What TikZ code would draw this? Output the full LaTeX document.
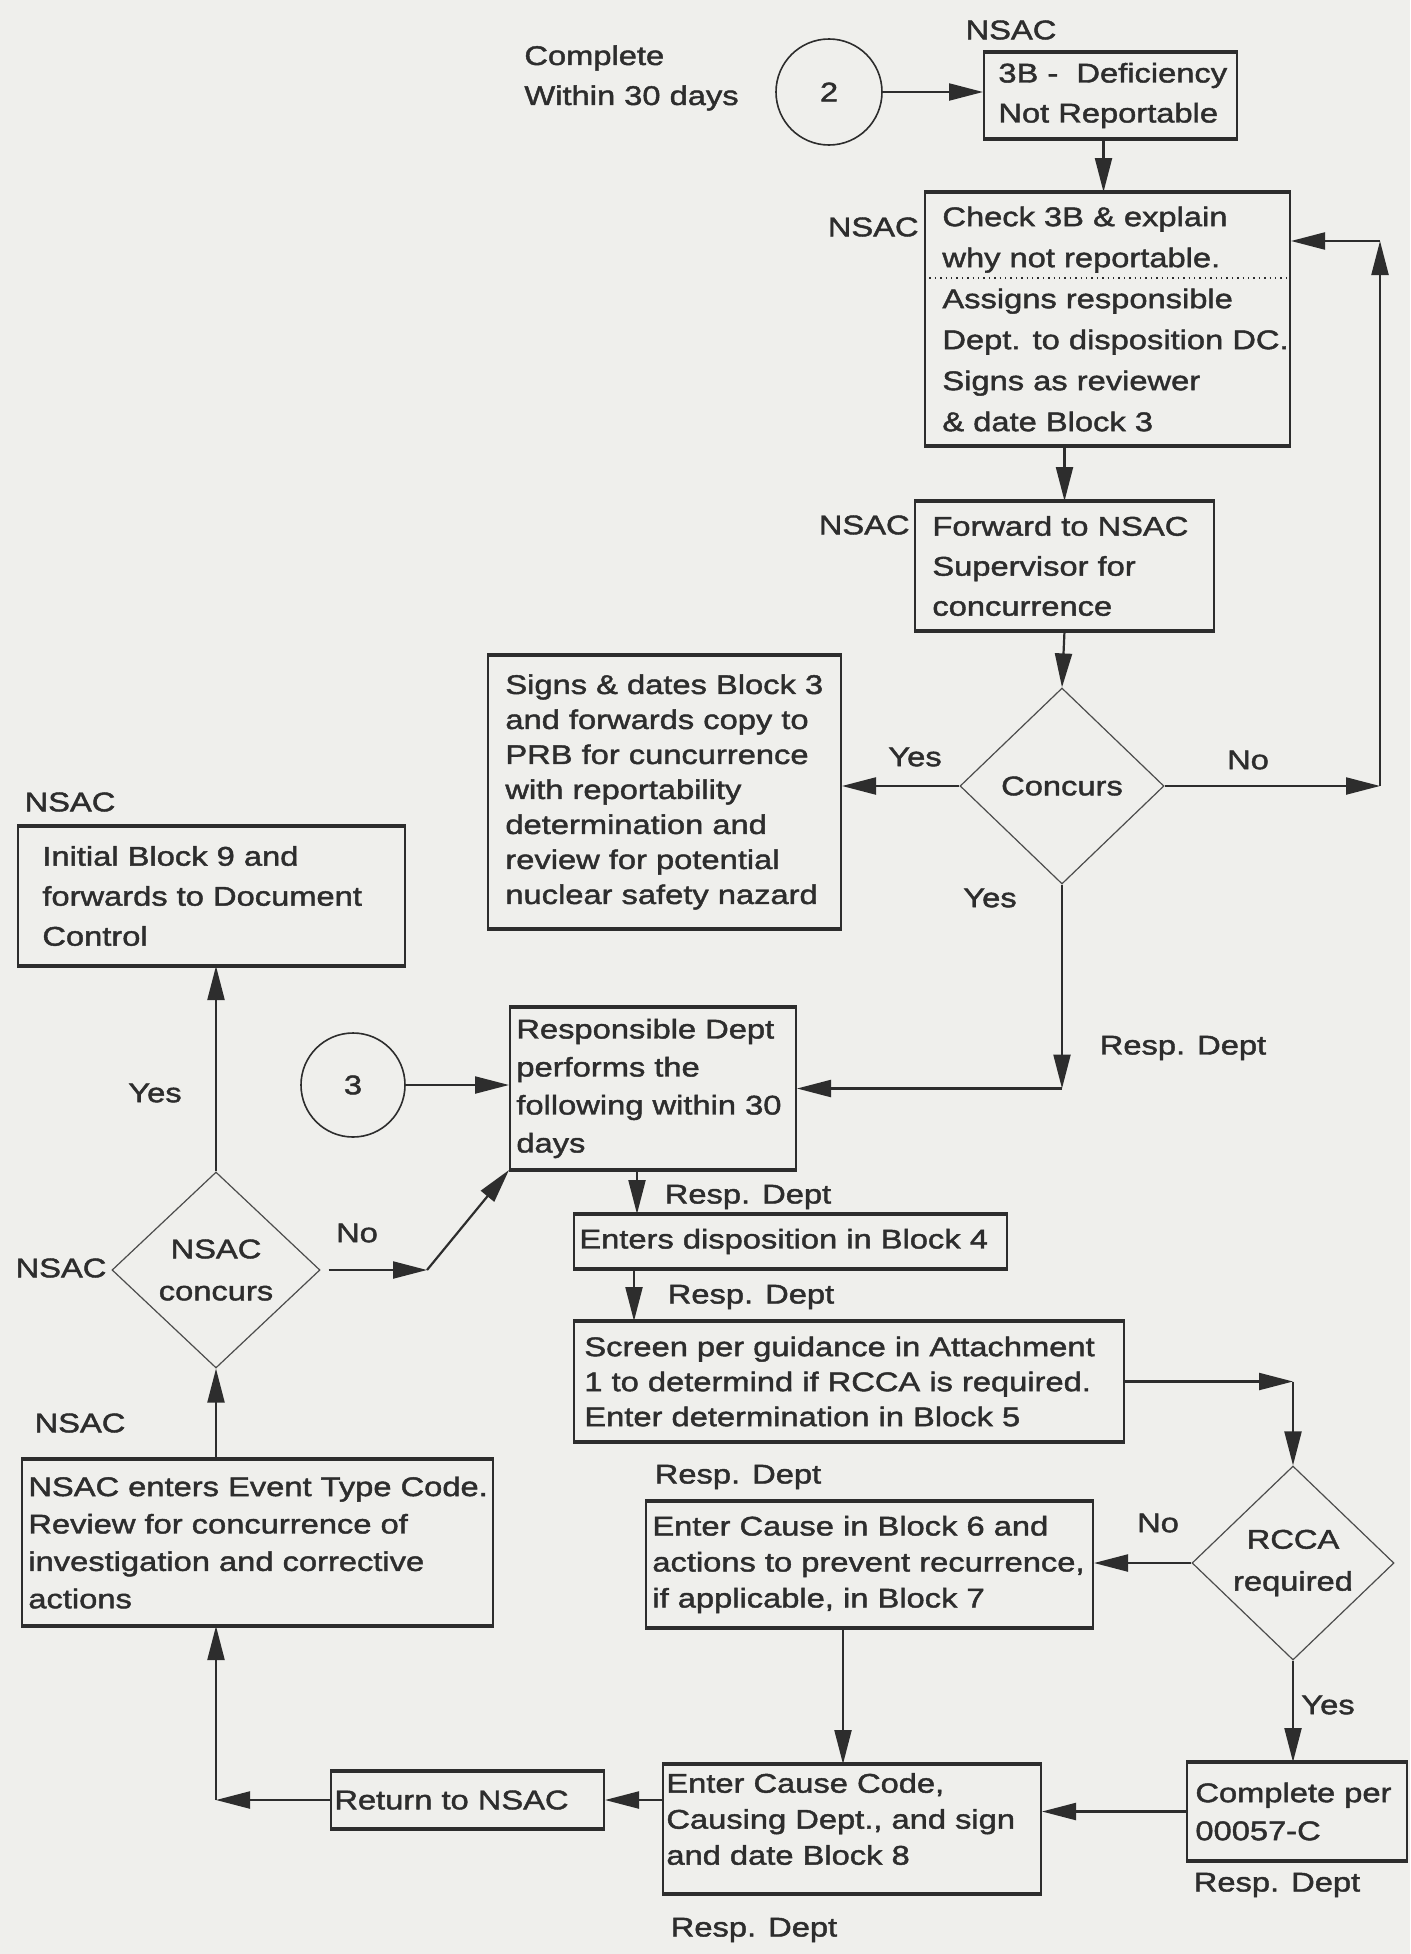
\documentclass[tikz,border=0pt]{standalone}
\usepackage{fontspec}
\setmainfont{Liberation Sans}[FakeStretch=1.21,FakeBold=1.6]
\usetikzlibrary{shapes.geometric,arrows.meta}
\definecolor{paper}{RGB}{239,239,236}
\definecolor{ink}{RGB}{45,45,45}

\begin{document}
\begin{tikzpicture}[x=0.5pt,y=-0.5pt,
  every node/.style={text=ink},
  box/.style 2 args={draw=ink, line width=1pt, rectangle, inner sep=0pt,
    minimum width=#1, minimum height=#2,
    append after command={
      (\tikzlastnode.north west) edge[draw=ink, line width=1.6pt, -] (\tikzlastnode.north east)
      (\tikzlastnode.south west) edge[draw=ink, line width=1.6pt, -] (\tikzlastnode.south east)}},
  txt/.style={align=left, inner sep=0pt, anchor=west,
    font=\fontsize{13.5pt}{#1}\selectfont},
  txt/.default=20pt,
  lbl/.style={inner sep=0pt, font=\fontsize{13.5pt}{16pt}\selectfont},
  dec/.style 2 args={draw=ink!85, line width=0.6pt, diamond, inner sep=0pt,
    minimum width=#1, minimum height=#2, align=center,
    font=\fontsize{13.5pt}{21pt}\selectfont},
  conn/.style={circle, draw=ink, line width=0.8pt, minimum size=#1, inner sep=0pt,
    font=\fontsize{13.5pt}{16pt}\selectfont},
  arr/.style={draw=ink, line width=1.1pt, -{Triangle[length=17pt,width=8.5pt]}},
]
\fill[paper] (0,0) rectangle (1410,1954);
\useasboundingbox (0,0) rectangle (1410,1954);

% ---- top: not reportable branch ----
\node[lbl, anchor=west, align=left, font=\fontsize{13.5pt}{20pt}\selectfont] (tComplete) at (524,78) {Complete\\Within 30 days};
\node[conn=53pt] (c2) at (829,92) {2};
\node[lbl] (nsac1) at (1011,30) {NSAC};
\node[box={126.5pt}{42.5pt}] (b3B) at (1110.5,95.5) {};
\node[txt=20pt] (b3B-t) at ([xshift=7.5pt]b3B.west) {3B - \ Deficiency\\Not Reportable};

\node[box={182.5pt}{126pt}] (bCheck) at (1107.5,319) {};
\node[txt=20.5pt] (bCheck-t) at ([xshift=9pt]bCheck.west) {Check 3B \& explain\\why not reportable.\\Assigns responsible\\Dept. to disposition DC.\\Signs as reviewer\\\& date Block 3};
\draw[ink, line width=0.7pt, dotted] ([yshift=-43pt]bCheck.north west) -- ([yshift=-43pt]bCheck.north east);
\node[lbl, anchor=east] (nsac2) at (919,227) {NSAC};

\node[box={149.5pt}{64pt}] (bFwd) at (1064.5,566) {};
\node[txt=20pt] (bFwd-t) at ([xshift=9pt]bFwd.west) {Forward to NSAC\\Supervisor for\\concurrence};
\node[lbl, anchor=east] (nsac3) at (910,525) {NSAC};

\node[dec={102pt}{98pt}] (dConc) at (1062,786) {Concurs};
\node[box={176.5pt}{136pt}] (bSigns) at (664.5,792) {};
\node[txt=17.5pt] (bSigns-t) at ([xshift=9pt]bSigns.west) {Signs \& dates Block 3\\and forwards copy to\\PRB for cuncurrence\\with reportability\\determination and\\review for potential\\nuclear safety nazard};
\node[lbl] (yes1) at (915,757) {Yes};
\node[lbl] (no1) at (1248,760) {No};
\node[lbl] (yes2) at (990,898) {Yes};

% ---- left column: NSAC review ----
\node[lbl] (nsac4) at (70,802) {NSAC};
\node[box={193.5pt}{69pt}] (bInit) at (211.5,896) {};
\node[txt=20pt] (bInit-t) at ([xshift=12.5pt]bInit.west) {Initial Block 9 and\\forwards to Document\\Control};

\node[conn=52pt] (c3) at (353,1085) {3};
\node[box={143pt}{80.5pt}] (bResp) at (653,1088.5) {};
\node[txt=19pt] (bResp-t) at ([xshift=3.5pt]bResp.west) {Responsible Dept\\performs the\\following within 30\\days};
\node[lbl] (rd1) at (1183,1048) {Resp. Dept};

\node[dec={104pt}{98pt}] (dNsac) at (216,1270) {NSAC\\concurs};
\node[lbl] (yes3) at (155,1093) {Yes};
\node[lbl] (nsac5) at (61,1268) {NSAC};
\node[lbl] (no2) at (357,1233) {No};
\node[lbl] (nsac6) at (80,1423) {NSAC};

% ---- responsible department steps ----
\node[lbl] (rd2) at (748,1197) {Resp. Dept};
\node[box={216.5pt}{26.5pt}] (bEnters) at (790.5,1241.5) {};
\node[txt] (bEnters-t) at ([xshift=3pt]bEnters.west) {Enters disposition in Block 4};
\node[lbl] (rd3) at (751,1297) {Resp. Dept};
\node[box={275pt}{59.5pt}] (bScreen) at (849,1381.5) {};
\node[txt=17.5pt] (bScreen-t) at ([xshift=5.5pt]bScreen.west) {Screen per guidance in Attachment\\1 to determind if RCCA is required.\\Enter determination in Block 5};

\node[box={235.5pt}{82.5pt}] (bNsacEnt) at (257.5,1542.5) {};
\node[txt=18.7pt] (bNsacEnt-t) at ([xshift=3.5pt]bNsacEnt.west) {NSAC enters Event Type Code.\\Review for concurrence of\\investigation and corrective\\actions};

\node[lbl] (rd4) at (738,1477) {Resp. Dept};
\node[box={223.5pt}{62.5pt}] (bCause) at (869.5,1564.5) {};
\node[txt=18pt] (bCause-t) at ([xshift=3.5pt]bCause.west) {Enter Cause in Block 6 and\\actions to prevent recurrence,\\if applicable, in Block 7};

\node[dec={101pt}{97pt}] (dRCCA) at (1293,1563) {RCCA\\required};
\node[lbl] (no3) at (1158,1523) {No};
\node[lbl] (yes4) at (1328,1705) {Yes};

\node[box={110pt}{48.5pt}] (bComplete) at (1297,1811.5) {};
\node[txt=19pt] (bComplete-t) at ([xshift=4.5pt]bComplete.west) {Complete per\\00057-C};
\node[lbl] (rd5) at (1277,1885) {Resp. Dept};

\node[box={189pt}{64pt}] (bCode) at (852,1829) {};
\node[txt=18pt] (bCode-t) at ([xshift=2pt,yshift=5pt]bCode.west) {Enter Cause Code,\\Causing Dept., and sign\\and date Block 8};
\node[lbl] (rd6) at (754,1930) {Resp. Dept};

\node[box={136.5pt}{28pt}] (bReturn) at (467.5,1800) {};
\node[txt] (bReturn-t) at ([xshift=2pt]bReturn.west) {Return to NSAC};

% ---- bend points ----
\coordinate (cR1) at (1380,786);
\coordinate (cR2) at (1380,241);
\coordinate (cD) at (dConc.south |- bResp.east);
\coordinate (cN) at (427,1270);
\coordinate (cS) at (dRCCA.north |- bScreen.east);
\coordinate (cL) at (dNsac.south |- bReturn.west);

% ---- connectors ----
\draw[arr] (c2.east) -- (c2.east -| b3B.west);
\draw[arr] ([xshift=-3.5pt]b3B.south) -- ([xshift=-3.5pt]b3B.south |- bCheck.north);
\draw[arr] (bFwd.north |- bCheck.south) -- (bFwd.north);
\draw[arr] (bFwd.south) -- (dConc.north);
\draw[arr] (dConc.west) -- (dConc.west -| bSigns.east);
\draw[arr] (dConc.east) -- (cR1);
\draw[arr] (cR1) -- (cR2);
\draw[arr] (cR2) -- (cR2 -| bCheck.east);
\draw[arr] (dConc.south) -- (cD);
\draw[arr] (cD) -- (bResp.east);
\draw[arr] (c3.east) -- (c3.east -| bResp.west);
\draw[arr] ([xshift=-8pt]bResp.south) -- ([xshift=-8pt]bResp.south |- bEnters.north);
\draw[arr] ([xshift=-9.5pt]bResp.south |- bEnters.south) -- ([xshift=-9.5pt]bResp.south |- bScreen.north);
\draw[arr] (bScreen.east) -- (cS);
\draw[arr] (cS) -- (dRCCA.north);
\draw[arr] (dRCCA.west) -- (dRCCA.west -| bCause.east);
\draw[arr] (dRCCA.south) -- (dRCCA.south |- bComplete.north);
\draw[arr] (bComplete.west) -- (bComplete.west -| bCode.east);
\draw[arr] ([xshift=-4.5pt]bCode.north |- bCause.south) -- ([xshift=-4.5pt]bCode.north);
\draw[arr] (bCode.west |- bReturn.east) -- (bReturn.east);
\draw[arr] (bReturn.west) -- (cL);
\draw[arr] (cL) -- (cL |- bNsacEnt.south);
\draw[arr] (dNsac.south |- bNsacEnt.north) -- (dNsac.south);
\draw[arr] (dNsac.north) -- (dNsac.north |- bInit.south);
\draw[arr] ([xshift=4pt]dNsac.east) -- (cN);
\draw[arr] (cN) -- (bResp.south west);
\end{tikzpicture}
\end{document}
